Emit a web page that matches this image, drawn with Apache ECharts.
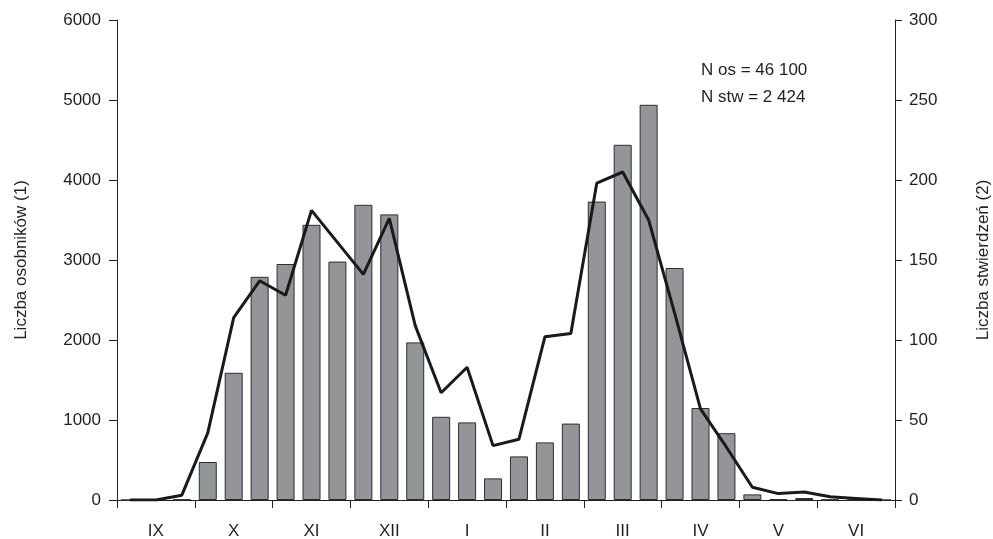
<!DOCTYPE html>
<html>
<head>
<meta charset="utf-8">
<script src="https://cdn.jsdelivr.net/npm/echarts@6/dist/echarts.min.js"></script>
<style>
  html, body { margin: 0; padding: 0; background: #fff; overflow: hidden; width: 993px; height: 539px; }
  #chart { width: 993px; height: 539px; }
</style>
</head>
<body>
<div id="chart"></div>
<script>
// Months of the season (September to June), each split into three decades
const months = ['IX', 'X', 'XI', 'XII', 'I', 'II', 'III', 'IV', 'V', 'VI'];
const decades = ['1', '2', '3'];

// Number of individuals per decade (bars, left axis)
const individuals = [
  0, 0, 5,
  475, 1590, 2790,
  2950, 3440, 2980,
  3690, 3570, 1970,
  1040, 970, 270,
  545, 720, 955,
  3730, 4440, 4940,
  2900, 1150, 835,
  70, 10, 25,
  5, 3, 0
];

// Number of records per decade (line, right axis)
const records = [
  0, 0, 3,
  42, 114, 137,
  128, 181, 161,
  141, 176, 109,
  67, 83, 34,
  38, 102, 104,
  198, 205, 175,
  117, 57, 33,
  8, 4, 5,
  2, 1, 0
];

const leftTicks = { min: 0, max: 6000, interval: 1000 };
const rightTicks = { min: 0, max: 300, interval: 50 };
const totals = ['N os = 46 100', 'N stw = 2 424'];

const decadeCats = [];
months.forEach(m => decades.forEach(d => decadeCats.push(m + '-' + d)));

const ink = '#231f20';
const font = 'Liberation Sans, Arial, sans-serif';

const chart = echarts.init(document.getElementById('chart'), null, { renderer: 'canvas', width: 993, height: 539 });

chart.setOption({
  animation: false,
  backgroundColor: '#ffffff',
  grid: { left: 117, right: 98, top: 20, bottom: 39, containLabel: false, outerBoundsMode: 'none' },
  xAxis: [
    {
      type: 'category',
      data: decadeCats,
      boundaryGap: true,
      axisLine: { show: true, lineStyle: { color: ink, width: 1 } },
      axisTick: { show: false },
      axisLabel: { show: false },
      splitLine: { show: false }
    },
    {
      type: 'category',
      data: months,
      position: 'bottom',
      boundaryGap: true,
      axisLine: { show: false },
      axisTick: { show: true, alignWithLabel: false, length: 8, inside: false, lineStyle: { color: ink, width: 1 } },
      axisLabel: { color: ink, fontSize: 17, fontFamily: font, margin: 23 },
      splitLine: { show: false }
    }
  ],
  yAxis: [
    {
      type: 'value',
      min: leftTicks.min,
      max: leftTicks.max,
      interval: leftTicks.interval,
      position: 'left',
      name: 'Liczba osobników (1)',
      nameLocation: 'middle',
      nameRotate: 90,
      nameGap: 87,
      nameTextStyle: { color: ink, fontSize: 17, fontFamily: font },
      axisLine: { show: true, lineStyle: { color: ink, width: 1 } },
      axisTick: { show: true, length: 8, lineStyle: { color: ink, width: 1 } },
      axisLabel: { color: ink, fontSize: 17, fontFamily: font, margin: 16, formatter: v => String(v) },
      splitLine: { show: false }
    },
    {
      type: 'value',
      min: rightTicks.min,
      max: rightTicks.max,
      interval: rightTicks.interval,
      position: 'right',
      name: 'Liczba stwierdzeń (2)',
      nameLocation: 'middle',
      nameRotate: 90,
      nameGap: 80,
      nameTextStyle: { color: ink, fontSize: 17, fontFamily: font },
      axisLine: { show: true, lineStyle: { color: ink, width: 1 } },
      axisTick: { show: true, length: 7, lineStyle: { color: ink, width: 1 } },
      axisLabel: { color: ink, fontSize: 17, fontFamily: font, margin: 14, formatter: v => String(v) },
      splitLine: { show: false }
    }
  ],
  series: [
    {
      name: 'Liczba osobników (1)',
      type: 'bar',
      xAxisIndex: 0,
      yAxisIndex: 0,
      data: individuals,
      barWidth: 18,
      itemStyle: { color: '#939598', borderColor: '#2e2e2e', borderWidth: 1 },
      z: 2
    },
    {
      name: 'Liczba stwierdzeń (2)',
      type: 'line',
      xAxisIndex: 0,
      yAxisIndex: 1,
      data: records,
      showSymbol: false,
      symbol: 'none',
      lineStyle: { color: '#1a1a1a', width: 3 },
      z: 3
    }
  ],
  graphic: [
    {
      type: 'text',
      left: 701,
      top: 62,
      style: { text: totals[0], fill: ink, font: '17px ' + font }
    },
    {
      type: 'text',
      left: 701,
      top: 89,
      style: { text: totals[1], fill: ink, font: '17px ' + font }
    }
  ]
});
</script>
</body>
</html>
